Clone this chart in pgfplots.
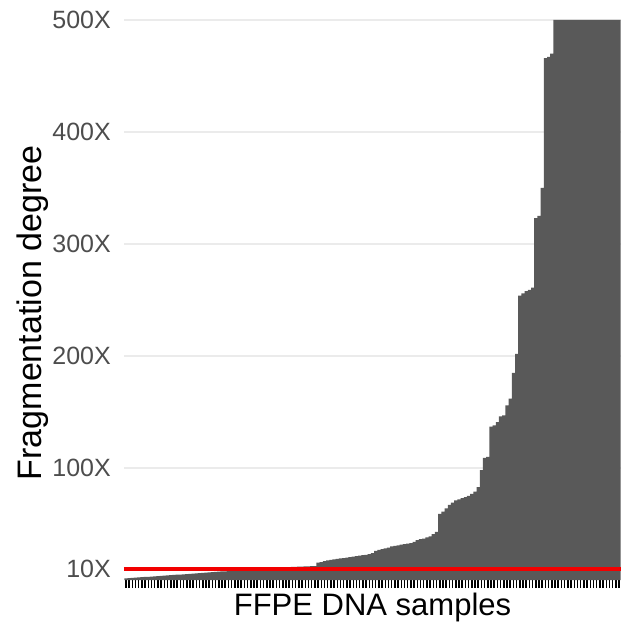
\documentclass[border=0pt]{standalone}
\usepackage{pgfplots}
\pgfplotsset{compat=1.18}
\usepackage{fontspec}
\setmainfont{Liberation Sans}
\definecolor{barfill}{HTML}{595959}
\definecolor{gridgray}{HTML}{EBEBEB}
\definecolor{ticklab}{HTML}{4D4D4D}
\definecolor{cutoff}{HTML}{F20000}

\begin{document}
\begin{tikzpicture}
\begin{axis}[
  scale only axis,
  width=497pt, height=560pt,
  xmin=0.4, xmax=155.6,
  ymin=0, ymax=500,
  axis line style={draw=none},
  tick pos=left,
  tick align=outside,
  major tick length=8pt,
  xtick={1,...,155},
  xticklabels={},
  x tick style={black, line width=1.5pt},
  ytick={10,100,200,300,400,500},
  yticklabels={10X,100X,200X,300X,400X,500X},
  y tick style={draw=none},
  yticklabel style={font=\fontsize{25}{29}\selectfont, text=ticklab, inner sep=0pt, xshift=-5pt},
  ymajorgrids,
  grid style={gridgray, line width=1.3pt},
  xlabel={FFPE DNA samples},
  ylabel={Fragmentation degree},
  xlabel style={at={(axis description cs:0.5,-0.064)}, anchor=base, font=\fontsize{31}{36}\selectfont},
  ylabel style={at={(axis description cs:-0.165,0.477)}, anchor=base, font=\fontsize{34}{40}\selectfont},
]
% samples sorted by fragmentation degree
\addplot[ybar, bar width=1, fill=barfill, draw=none] coordinates {
  (1,1.5) (2,1.7) (3,1.9) (4,2.1) (5,2.3) (6,2.5) (7,2.7) (8,2.9) (9,3.1) (10,3.3)
  (11,3.5) (12,3.7) (13,3.9) (14,4.1) (15,4.3) (16,4.5) (17,4.7) (18,4.9) (19,5.1) (20,5.3)
  (21,5.5) (22,5.7) (23,5.9) (24,6.2) (25,6.4) (26,6.6) (27,6.8) (28,7.0) (29,7.2) (30,7.4)
  (31,7.6) (32,7.8) (33,8.0) (34,8.2) (35,8.4) (36,8.6) (37,8.8) (38,9.0) (39,9.2) (40,9.4)
  (41,9.6) (42,9.8) (43,10.0) (44,10.2) (45,10.4) (46,10.6) (47,10.8) (48,11.0) (49,11.1) (50,11.3)
  (51,11.4) (52,11.6) (53,11.7) (54,11.8) (55,11.9) (56,12.0) (57,12.1) (58,12.2) (59,12.3) (60,12.5)
  (61,15.5) (62,16.0) (63,16.8) (64,17.5) (65,18.0) (66,18.4) (67,18.8) (68,19.2) (69,19.6) (70,20.0)
  (71,20.5) (72,20.9) (73,21.3) (74,21.7) (75,22.1) (76,22.5) (77,23.0) (78,24.0) (79,26.0) (80,27.0)
  (81,27.6) (82,28.3) (83,29.0) (84,30.0) (85,30.5) (86,31.0) (87,31.5) (88,32.0) (89,32.5) (90,33.0)
  (91,34.0) (92,35.5) (93,36.5) (94,37.0) (95,38.0) (96,39.0) (97,41.0) (98,43.0) (99,59.0) (100,61.0)
  (101,64.0) (102,67.0) (103,69.0) (104,71.0) (105,72.0) (106,73.0) (107,74.0) (108,75.0) (109,77.0) (110,79.0)
  (111,83.0) (112,98.0) (113,109.0) (114,110.0) (115,137.0) (116,138.0) (117,141.0) (118,146.0) (119,147.0) (120,156.0)
  (121,162.0) (122,185.0) (123,202.0) (124,254.0) (125,256.0) (126,258.0) (127,259.0) (128,261.0) (129,323.0) (130,325.0)
  (131,350.0) (132,466.0) (133,467.0) (134,470.0) (135,500) (136,500) (137,500) (138,500) (139,500) (140,500)
  (141,500) (142,500) (143,500) (144,500) (145,500) (146,500) (147,500) (148,500) (149,500) (150,500)
  (151,500) (152,500) (153,500) (154,500) (155,500)
};
% 10X threshold
\addplot[cutoff, line width=3.5pt] coordinates {(0.4,10) (155.6,10)};
\end{axis}
\pgfresetboundingbox
\path (-124pt,-43pt) rectangle (498pt,580pt);
\end{tikzpicture}
\end{document}
